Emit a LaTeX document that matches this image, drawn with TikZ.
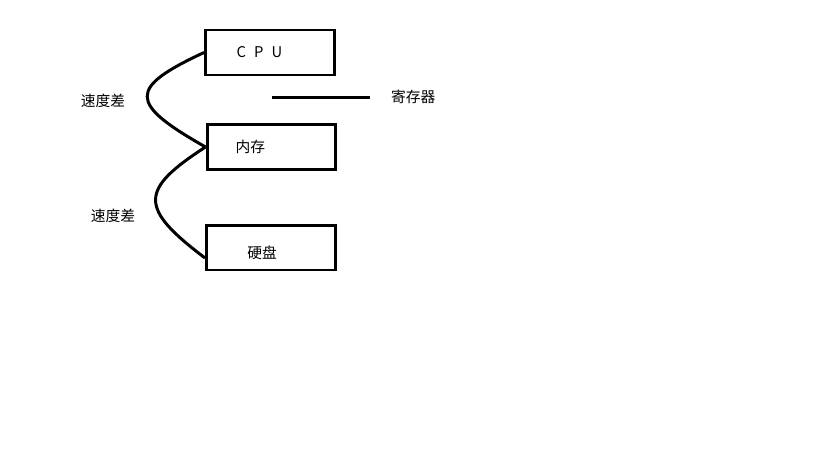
\documentclass[tikz,border=0pt]{standalone}
\usepackage{fontspec}
\setmainfont{Noto Sans CJK SC}
\usepackage{tikz}
\usetikzlibrary{positioning,calc}

\tikzset{
    box/.style={draw, line width=1.7pt, minimum width=2.58cm, minimum height=0.9cm, inner sep=0pt},
    wire/.style={line width=1.7pt},
    txt/.style={font=\fontsize{8.4}{10}\selectfont}
}

\begin{document}
\begin{tikzpicture}[x=0.02cm, y=-0.02cm]
        \useasboundingbox (0,0) rectangle (819,460);

        % Boxes
        \node[box, label={[txt, xshift=-6pt]center:C\hspace{0.55em}P\hspace{0.55em}U}] (cpu) at (270,52.5) {};
        \node[box, label={[txt, xshift=-12pt]center:内存}] (mem) at (271.5,147) {};
        \node[box, label={[txt, xshift=-5pt, yshift=-3pt]center:硬盘}] (disk) at (271,247.5) {};

        % Speed gaps
        \coordinate (diskin) at ($(disk.west)+(0,10.5)$);
        \draw[wire] (cpu.west) .. controls (128,88) and (128,103) .. (mem.west);
        \draw[wire] (mem.west) .. controls (139,190) and (139,208) .. (diskin);
        \node[txt] (gap1) at (103,101) {速度差};
        \node[txt] (gap2) at (113,216) {速度差};

        % Register
        \coordinate (rega) at (272,97.5);
        \node[txt, anchor=west] (reg) at (385,97) {寄存器};
        \draw[wire] (rega) -- (370,97.5);
\end{tikzpicture}
\end{document}
